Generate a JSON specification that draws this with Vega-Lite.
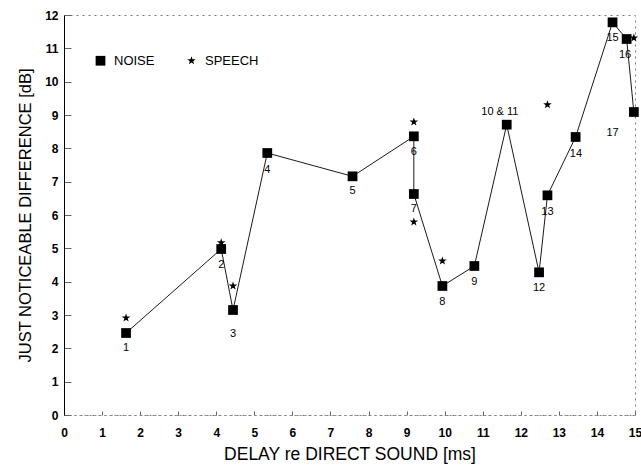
{
  "$schema": "https://vega.github.io/schema/vega-lite/v6.json",
  "width": 571,
  "height": 400,
  "autosize": {"type": "none"},
  "padding": {"left": 64, "top": 15, "right": 6, "bottom": 53},
  "background": "white",
  "config": {
    "font": "Liberation Sans",
    "view": {"stroke": "#777", "strokeDash": [2, 4], "strokeWidth": 1},
    "axis": {"labelFont": "Liberation Sans", "titleFont": "Liberation Sans", "labelColor": "black", "titleColor": "black", "grid": false, "labelOverlap": false}
  },
  "datasets": {
    "pts": [
      {"series": "NOISE", "id": 1, "delay": 1.63, "jnd": 2.46},
      {"series": "NOISE", "id": 2, "delay": 4.13, "jnd": 4.98},
      {"series": "NOISE", "id": 3, "delay": 4.44, "jnd": 3.15},
      {"series": "NOISE", "id": 4, "delay": 5.34, "jnd": 7.86},
      {"series": "NOISE", "id": 5, "delay": 7.58, "jnd": 7.16},
      {"series": "NOISE", "id": 6, "delay": 9.19, "jnd": 8.36},
      {"series": "NOISE", "id": 7, "delay": 9.19, "jnd": 6.63},
      {"series": "NOISE", "id": 8, "delay": 9.94, "jnd": 3.87},
      {"series": "NOISE", "id": 9, "delay": 10.78, "jnd": 4.47},
      {"series": "NOISE", "id": 10, "delay": 11.63, "jnd": 8.71},
      {"series": "NOISE", "id": 12, "delay": 12.48, "jnd": 4.28},
      {"series": "NOISE", "id": 13, "delay": 12.7, "jnd": 6.59},
      {"series": "NOISE", "id": 14, "delay": 13.44, "jnd": 8.34},
      {"series": "NOISE", "id": 15, "delay": 14.41, "jnd": 11.78},
      {"series": "NOISE", "id": 16, "delay": 14.78, "jnd": 11.28},
      {"series": "NOISE", "id": 17, "delay": 14.97, "jnd": 9.09},
      {"series": "SPEECH", "id": 1, "delay": 1.63, "jnd": 2.91},
      {"series": "SPEECH", "id": 2, "delay": 4.13, "jnd": 5.17},
      {"series": "SPEECH", "id": 3, "delay": 4.44, "jnd": 3.87},
      {"series": "SPEECH", "id": 6, "delay": 9.19, "jnd": 8.79},
      {"series": "SPEECH", "id": 7, "delay": 9.19, "jnd": 5.79},
      {"series": "SPEECH", "id": 8, "delay": 9.94, "jnd": 4.62},
      {"series": "SPEECH", "id": 13, "delay": 12.7, "jnd": 9.31},
      {"series": "SPEECH", "id": 16, "delay": 14.97, "jnd": 11.31}
    ],
    "labels": [
      {"text": "1", "delay": 1.63, "jnd": 2.01},
      {"text": "2", "delay": 4.13, "jnd": 4.5},
      {"text": "3", "delay": 4.44, "jnd": 2.43},
      {"text": "4", "delay": 5.34, "jnd": 7.36},
      {"text": "5", "delay": 7.58, "jnd": 6.71},
      {"text": "6", "delay": 9.19, "jnd": 7.9},
      {"text": "7", "delay": 9.19, "jnd": 6.19},
      {"text": "8", "delay": 9.94, "jnd": 3.4},
      {"text": "9", "delay": 10.78, "jnd": 4.0},
      {"text": "10 & 11", "delay": 11.45, "jnd": 9.1},
      {"text": "12", "delay": 12.48, "jnd": 3.82},
      {"text": "13", "delay": 12.7, "jnd": 6.1},
      {"text": "14", "delay": 13.45, "jnd": 7.84},
      {"text": "15", "delay": 14.41, "jnd": 11.31},
      {"text": "16", "delay": 14.74, "jnd": 10.81},
      {"text": "17", "delay": 14.41, "jnd": 8.46}
    ]
  },
  "encoding": {
    "x": {"field": "delay", "type": "quantitative", "scale": {"domain": [0, 15], "nice": false},
      "axis": {"title": "DELAY re DIRECT SOUND [ms]", "values": [0,1,2,3,4,5,6,7,8,9,10,11,12,13,14,15], "labelOverlap": false, "labelFontSize": 12, "labelFontWeight": "bold", "labelPadding": 16, "tickSize": -4, "tickColor": "#666", "domainColor": "#888", "domainDash": [2, 3], "titleFontSize": 17.5, "titleFontWeight": "normal", "titlePadding": 7, "labelFlush": false}},
    "y": {"field": "jnd", "type": "quantitative", "scale": {"domain": [0, 12], "nice": false},
      "axis": {"title": "JUST NOTICEABLE DIFFERENCE [dB]", "values": [0,1,2,3,4,5,6,7,8,9,10,11,12], "labelOverlap": false, "labelFontSize": 12, "labelFontWeight": "bold", "labelPadding": 13, "tickSize": -7, "tickColor": "#666", "domainColor": "black", "titleFontSize": 16.5, "titleFontWeight": "normal", "titlePadding": 11}}
  },
  "layer": [
    {
      "data": {"name": "pts"},
      "transform": [{"filter": "datum.series === 'NOISE'"}],
      "mark": {"type": "line", "color": "black", "strokeWidth": 0.9},
      "encoding": {
        "order": {"field": "id", "type": "quantitative"}
      }
    },
    {
      "data": {"name": "pts"},
      "mark": {"type": "point", "filled": true, "opacity": 1, "color": "black"},
      "encoding": {
        "shape": {"field": "series", "type": "nominal",
          "scale": {"domain": ["NOISE", "SPEECH"], "range": ["square", "M0,-1L0.235,-0.324L0.951,-0.309L0.38,0.124L0.588,0.809L0,0.4L-0.588,0.809L-0.38,0.124L-0.951,-0.309L-0.235,-0.324Z"]},
          "legend": {"title": null, "orient": "none", "legendX": 30, "legendY": 39, "direction": "horizontal", "labelFontSize": 13, "labelFont": "Liberation Sans", "columnPadding": 30, "labelOffset": 7, "symbolFillColor": "black", "symbolStrokeWidth": 0}},
        "size": {"field": "series", "type": "nominal", "scale": {"domain": ["NOISE", "SPEECH"], "range": [95, 80]}}
      }
    },
    {
      "data": {"name": "labels"},
      "mark": {"type": "text", "fontSize": 11, "font": "Liberation Sans", "color": "black", "baseline": "middle", "align": "center"},
      "encoding": {
        "text": {"field": "text"}
      }
    }
  ]
}
